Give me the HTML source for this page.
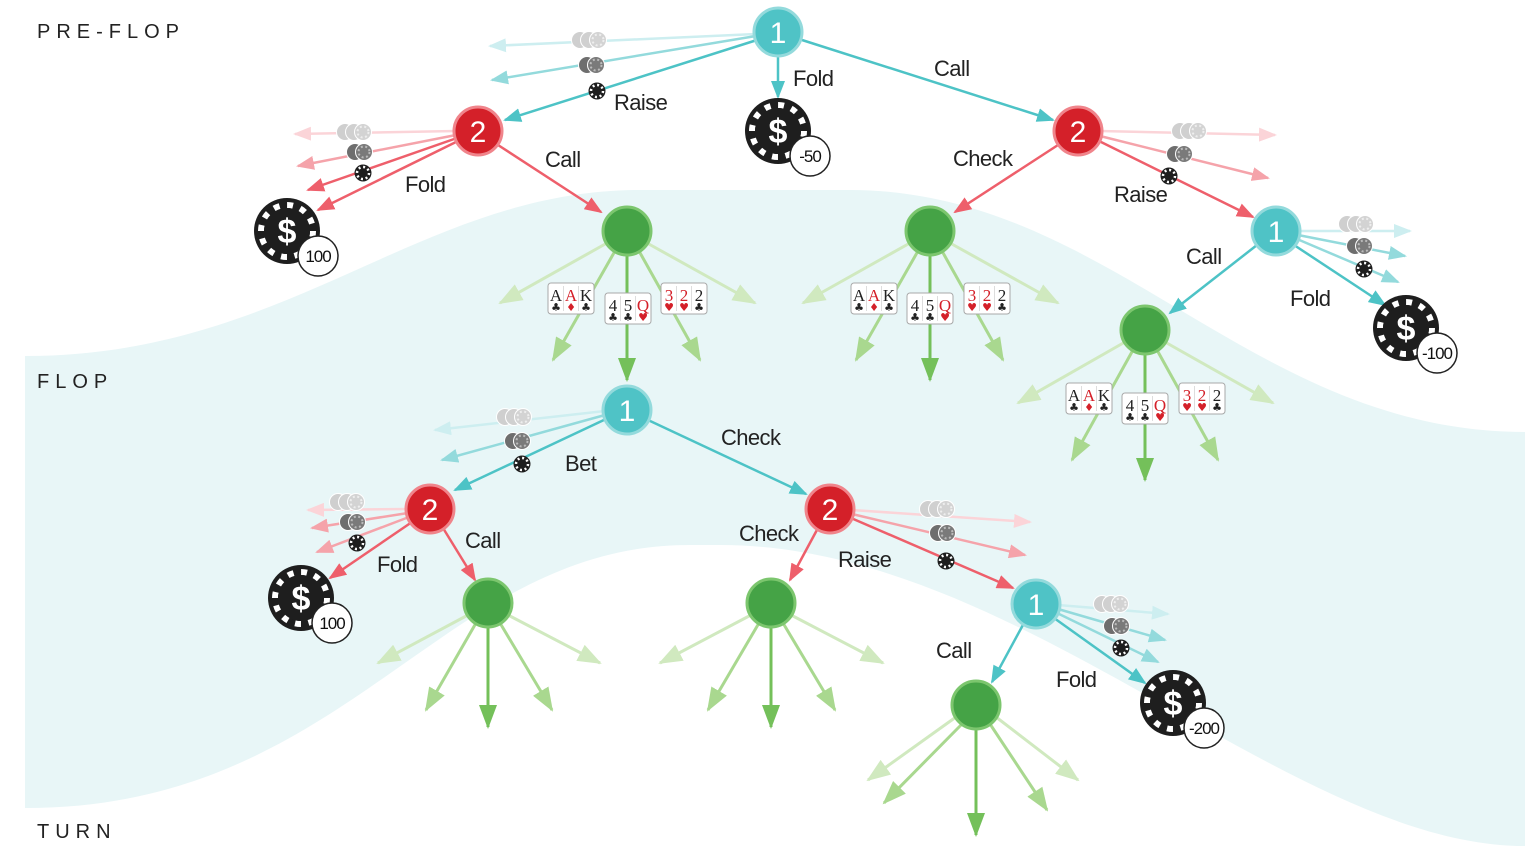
<!DOCTYPE html>
<html><head><meta charset="utf-8"><style>
html,body{margin:0;padding:0;background:#fff}
svg{display:block}
.l{font-family:"Liberation Sans Narrow","Liberation Sans",sans-serif;font-size:22px;letter-spacing:-0.6px;fill:#222}
.h{font-family:"Liberation Sans",sans-serif;font-size:20px;letter-spacing:6px;fill:#222}
.n{font-family:"Liberation Sans",sans-serif;font-size:30px;fill:#fff;text-anchor:middle}
.b{font-family:"Liberation Sans Narrow","Liberation Sans",sans-serif;font-size:17px;letter-spacing:-1px;fill:#111;text-anchor:middle}
.d{font-family:"Liberation Sans",sans-serif;font-size:34px;font-weight:bold;fill:#fff;text-anchor:middle}
.c{font-family:"Liberation Serif",serif;font-size:17px;text-anchor:middle}
.s{font-family:"DejaVu Sans",sans-serif;font-size:11px;text-anchor:middle}
</style></head><body>
<svg width="1525" height="859" viewBox="0 0 1525 859" xmlns="http://www.w3.org/2000/svg">
<defs>
<marker id="t" markerUnits="userSpaceOnUse" markerWidth="18" markerHeight="14" refX="16" refY="7" orient="auto"><path d="M0,0 L18,7 L0,14z" fill="#4dc3c6"/></marker>
<marker id="t2" markerUnits="userSpaceOnUse" markerWidth="18" markerHeight="14" refX="16" refY="7" orient="auto"><path d="M0,0 L18,7 L0,14z" fill="#93dadc"/></marker>
<marker id="t3" markerUnits="userSpaceOnUse" markerWidth="18" markerHeight="14" refX="16" refY="7" orient="auto"><path d="M0,0 L18,7 L0,14z" fill="#cdeef0"/></marker>
<marker id="r" markerUnits="userSpaceOnUse" markerWidth="18" markerHeight="14" refX="16" refY="7" orient="auto"><path d="M0,0 L18,7 L0,14z" fill="#ee5f6b"/></marker>
<marker id="r2" markerUnits="userSpaceOnUse" markerWidth="18" markerHeight="14" refX="16" refY="7" orient="auto"><path d="M0,0 L18,7 L0,14z" fill="#f5a3aa"/></marker>
<marker id="r3" markerUnits="userSpaceOnUse" markerWidth="18" markerHeight="14" refX="16" refY="7" orient="auto"><path d="M0,0 L18,7 L0,14z" fill="#fbd4d8"/></marker>
<marker id="g" markerUnits="userSpaceOnUse" markerWidth="24" markerHeight="18" refX="22" refY="9" orient="auto"><path d="M0,0 L24,9 L0,18z" fill="#74c05a"/></marker>
<marker id="g2" markerUnits="userSpaceOnUse" markerWidth="24" markerHeight="18" refX="22" refY="9" orient="auto"><path d="M0,0 L24,9 L0,18z" fill="#a9d88f"/></marker>
<marker id="g3" markerUnits="userSpaceOnUse" markerWidth="24" markerHeight="18" refX="22" refY="9" orient="auto"><path d="M0,0 L24,9 L0,18z" fill="#d0e9bf"/></marker>
<g id="dot"><circle r="8.5" fill="#1e1e1e"/><circle r="6" fill="none" stroke="#fff" stroke-width="2.5" stroke-dasharray="2 2.7"/><circle r="3.5" fill="#1e1e1e"/></g>
<g id="c2"><circle cx="-5" r="8.5" fill="#6e6e6e" stroke="#fff" stroke-width="1"/><circle cx="4" r="8.5" fill="#7a7a7a" stroke="#fff" stroke-width="1"/><circle cx="4" r="5.5" fill="none" stroke="#bbb" stroke-width="2" stroke-dasharray="2 2.5"/></g>
<g id="c3"><circle cx="-10" r="8.5" fill="#cfcfcf" stroke="#fff" stroke-width="1"/><circle cx="-1" r="8.5" fill="#d0d0d0" stroke="#fff" stroke-width="1"/><circle cx="8" r="8.5" fill="#d3d3d3" stroke="#fff" stroke-width="1"/><circle cx="8" r="5.5" fill="none" stroke="#eee" stroke-width="2" stroke-dasharray="2 2.5"/></g>
<g id="big"><circle r="33" fill="#1e1e1e"/><circle r="26" fill="none" stroke="#fff" stroke-width="6" stroke-dasharray="6 7.6"/><circle r="23" fill="#1e1e1e"/></g>
<g id="card"><rect x="0" y="0" width="46" height="31" rx="3" fill="#fff" stroke="#a8a8a8"/><line x1="15.5" y1="3" x2="15.5" y2="28" stroke="#ddd"/><line x1="30.5" y1="3" x2="30.5" y2="28" stroke="#ddd"/></g>
</defs>

<path d="M25,356 C290,356 420,190 640,190 L850,190 C1110,190 1250,432 1525,432 L1525,846 C1290,846 1020,545 720,545 L690,545 C440,545 350,808 25,808 Z" fill="#e8f6f7"/>

<text class="h" x="37" y="38">PRE-FLOP</text>
<text class="h" x="37" y="388">FLOP</text>
<text class="h" x="37" y="838">TURN</text>

<g stroke-width="2.5" fill="none">
<line x1="756" y1="34" x2="490" y2="46" stroke="#cdeef0" marker-end="url(#t3)"/>
<line x1="756" y1="36" x2="492" y2="80" stroke="#93dadc" marker-end="url(#t2)"/>
<line x1="757" y1="40" x2="505" y2="120" stroke="#4dc3c6" marker-end="url(#t)"/>
<line x1="778" y1="55" x2="778" y2="97" stroke="#4dc3c6" marker-end="url(#t)"/>
<line x1="802" y1="40" x2="1053" y2="120" stroke="#4dc3c6" marker-end="url(#t)"/>
<line x1="456" y1="131" x2="295" y2="134" stroke="#fbd4d8" marker-end="url(#r3)"/>
<line x1="456" y1="135" x2="298" y2="166" stroke="#f5a3aa" marker-end="url(#r2)"/>
<line x1="457" y1="138" x2="308" y2="190" stroke="#ee5f6b" marker-end="url(#r)"/>
<line x1="458" y1="141" x2="318" y2="210" stroke="#ee5f6b" marker-end="url(#r)"/>
<line x1="498" y1="145" x2="601" y2="212" stroke="#ee5f6b" marker-end="url(#r)"/>
<line x1="1100" y1="131" x2="1275" y2="135" stroke="#fbd4d8" marker-end="url(#r3)"/>
<line x1="1100" y1="136" x2="1268" y2="178" stroke="#f5a3aa" marker-end="url(#r2)"/>
<line x1="1099" y1="141" x2="1253" y2="217" stroke="#ee5f6b" marker-end="url(#r)"/>
<line x1="1058" y1="145" x2="955" y2="212" stroke="#ee5f6b" marker-end="url(#r)"/>
<line x1="1298" y1="231" x2="1410" y2="231" stroke="#cdeef0" marker-end="url(#t3)"/>
<line x1="1298" y1="235" x2="1405" y2="256" stroke="#93dadc" marker-end="url(#t2)"/>
<line x1="1297" y1="239" x2="1398" y2="282" stroke="#93dadc" marker-end="url(#t2)"/>
<line x1="1294" y1="245" x2="1385" y2="305" stroke="#4dc3c6" marker-end="url(#t)"/>
<line x1="1257" y1="245" x2="1170" y2="313" stroke="#4dc3c6" marker-end="url(#t)"/>
<line x1="605" y1="411" x2="435" y2="430" stroke="#cdeef0" marker-end="url(#t3)"/>
<line x1="605" y1="415" x2="442" y2="460" stroke="#93dadc" marker-end="url(#t2)"/>
<line x1="606" y1="419" x2="455" y2="490" stroke="#4dc3c6" marker-end="url(#t)"/>
<line x1="648" y1="420" x2="806" y2="494" stroke="#4dc3c6" marker-end="url(#t)"/>
<line x1="408" y1="509" x2="308" y2="510" stroke="#fbd4d8" marker-end="url(#r3)"/>
<line x1="408" y1="513" x2="312" y2="528" stroke="#f5a3aa" marker-end="url(#r2)"/>
<line x1="409" y1="517" x2="317" y2="552" stroke="#f5a3aa" marker-end="url(#r2)"/>
<line x1="412" y1="522" x2="330" y2="578" stroke="#ee5f6b" marker-end="url(#r)"/>
<line x1="443" y1="528" x2="475" y2="580" stroke="#ee5f6b" marker-end="url(#r)"/>
<line x1="852" y1="510" x2="1030" y2="522" stroke="#fbd4d8" marker-end="url(#r3)"/>
<line x1="852" y1="514" x2="1025" y2="555" stroke="#f5a3aa" marker-end="url(#r2)"/>
<line x1="851" y1="518" x2="1013" y2="588" stroke="#ee5f6b" marker-end="url(#r)"/>
<line x1="818" y1="528" x2="790" y2="580" stroke="#ee5f6b" marker-end="url(#r)"/>
<line x1="1058" y1="605" x2="1168" y2="614" stroke="#cdeef0" marker-end="url(#t3)"/>
<line x1="1058" y1="609" x2="1165" y2="640" stroke="#93dadc" marker-end="url(#t2)"/>
<line x1="1057" y1="613" x2="1158" y2="662" stroke="#93dadc" marker-end="url(#t2)"/>
<line x1="1054" y1="618" x2="1145" y2="683" stroke="#4dc3c6" marker-end="url(#t)"/>
<line x1="1024" y1="623" x2="992" y2="682" stroke="#4dc3c6" marker-end="url(#t)"/>
</g>

<g stroke-width="3" fill="none">
<g transform="translate(627,231)">
<line x1="-20" y1="12" x2="-127" y2="72" stroke="#d0e9bf" marker-end="url(#g3)"/>
<line x1="20" y1="12" x2="128" y2="72" stroke="#d0e9bf" marker-end="url(#g3)"/>
<line x1="-12" y1="20" x2="-74" y2="129" stroke="#a9d88f" marker-end="url(#g2)"/>
<line x1="12" y1="20" x2="73" y2="129" stroke="#a9d88f" marker-end="url(#g2)"/>
<line x1="0" y1="23" x2="0" y2="149" stroke="#74c05a" marker-end="url(#g)"/>
</g>
<g transform="translate(930,231)">
<line x1="-20" y1="12" x2="-127" y2="72" stroke="#d0e9bf" marker-end="url(#g3)"/>
<line x1="20" y1="12" x2="128" y2="72" stroke="#d0e9bf" marker-end="url(#g3)"/>
<line x1="-12" y1="20" x2="-74" y2="129" stroke="#a9d88f" marker-end="url(#g2)"/>
<line x1="12" y1="20" x2="73" y2="129" stroke="#a9d88f" marker-end="url(#g2)"/>
<line x1="0" y1="23" x2="0" y2="149" stroke="#74c05a" marker-end="url(#g)"/>
</g>
<g transform="translate(1145,330)">
<line x1="-20" y1="12" x2="-127" y2="73" stroke="#d0e9bf" marker-end="url(#g3)"/>
<line x1="20" y1="12" x2="128" y2="73" stroke="#d0e9bf" marker-end="url(#g3)"/>
<line x1="-12" y1="20" x2="-73" y2="130" stroke="#a9d88f" marker-end="url(#g2)"/>
<line x1="12" y1="20" x2="73" y2="130" stroke="#a9d88f" marker-end="url(#g2)"/>
<line x1="0" y1="23" x2="0" y2="150" stroke="#74c05a" marker-end="url(#g)"/>
</g>
<g transform="translate(488,603)">
<line x1="-20" y1="12" x2="-110" y2="60" stroke="#d0e9bf" marker-end="url(#g3)"/>
<line x1="20" y1="12" x2="112" y2="60" stroke="#d0e9bf" marker-end="url(#g3)"/>
<line x1="-12" y1="20" x2="-62" y2="107" stroke="#a9d88f" marker-end="url(#g2)"/>
<line x1="12" y1="20" x2="64" y2="107" stroke="#a9d88f" marker-end="url(#g2)"/>
<line x1="0" y1="23" x2="0" y2="124" stroke="#74c05a" marker-end="url(#g)"/>
</g>
<g transform="translate(771,603)">
<line x1="-20" y1="12" x2="-111" y2="60" stroke="#d0e9bf" marker-end="url(#g3)"/>
<line x1="20" y1="12" x2="112" y2="60" stroke="#d0e9bf" marker-end="url(#g3)"/>
<line x1="-12" y1="20" x2="-63" y2="107" stroke="#a9d88f" marker-end="url(#g2)"/>
<line x1="12" y1="20" x2="64" y2="107" stroke="#a9d88f" marker-end="url(#g2)"/>
<line x1="0" y1="23" x2="0" y2="124" stroke="#74c05a" marker-end="url(#g)"/>
</g>
<g transform="translate(976,705)">
<line x1="-20" y1="12" x2="-108" y2="75" stroke="#d0e9bf" marker-end="url(#g3)"/>
<line x1="20" y1="12" x2="102" y2="75" stroke="#d0e9bf" marker-end="url(#g3)"/>
<line x1="-14" y1="19" x2="-92" y2="98" stroke="#a9d88f" marker-end="url(#g2)"/>
<line x1="14" y1="19" x2="71" y2="105" stroke="#a9d88f" marker-end="url(#g2)"/>
<line x1="0" y1="23" x2="0" y2="130" stroke="#74c05a" marker-end="url(#g)"/>
</g>
</g>

<use href="#c3" x="590" y="40"/><use href="#c2" x="592" y="65"/><use href="#dot" x="597" y="91"/>
<use href="#c3" x="355" y="132"/><use href="#c2" x="360" y="152"/><use href="#dot" x="363" y="173"/>
<use href="#c3" x="1190" y="131"/><use href="#c2" x="1180" y="154"/><use href="#dot" x="1169" y="176"/>
<use href="#c3" x="1357" y="224"/><use href="#c2" x="1360" y="246"/><use href="#dot" x="1364" y="269"/>
<use href="#c3" x="515" y="417"/><use href="#c2" x="518" y="441"/><use href="#dot" x="522" y="464"/>
<use href="#c3" x="348" y="502"/><use href="#c2" x="353" y="522"/><use href="#dot" x="357" y="543"/>
<use href="#c3" x="938" y="509"/><use href="#c2" x="943" y="533"/><use href="#dot" x="946" y="561"/>
<use href="#c3" x="1112" y="604"/><use href="#c2" x="1117" y="626"/><use href="#dot" x="1121" y="648"/>

<g transform="translate(778,131)"><use href="#big"/><text class="d" x="0" y="12">$</text><circle cx="32" cy="25" r="20" fill="#fff" stroke="#222" stroke-width="1.5"/><text class="b" x="32" y="31">-50</text></g>
<g transform="translate(287,231)"><use href="#big"/><text class="d" x="0" y="12">$</text><circle cx="31" cy="25" r="20" fill="#fff" stroke="#222" stroke-width="1.5"/><text class="b" x="31" y="31">100</text></g>
<g transform="translate(1406,328)"><use href="#big"/><text class="d" x="0" y="12">$</text><circle cx="31" cy="25" r="20" fill="#fff" stroke="#222" stroke-width="1.5"/><text class="b" x="31" y="31">-100</text></g>
<g transform="translate(301,598)"><use href="#big"/><text class="d" x="0" y="12">$</text><circle cx="31" cy="25" r="20" fill="#fff" stroke="#222" stroke-width="1.5"/><text class="b" x="31" y="31">100</text></g>
<g transform="translate(1173,703)"><use href="#big"/><text class="d" x="0" y="12">$</text><circle cx="31" cy="25" r="20" fill="#fff" stroke="#222" stroke-width="1.5"/><text class="b" x="31" y="31">-200</text></g>

<g stroke-width="3">
<circle cx="778" cy="32" r="24" fill="#4fc3c6" stroke="#93dadc"/>
<circle cx="478" cy="131" r="24" fill="#d42029" stroke="#f0848b"/>
<circle cx="1078" cy="131" r="24" fill="#d42029" stroke="#f0848b"/>
<circle cx="1276" cy="231" r="24" fill="#4fc3c6" stroke="#93dadc"/>
<circle cx="627" cy="410" r="24" fill="#4fc3c6" stroke="#93dadc"/>
<circle cx="430" cy="509" r="24" fill="#d42029" stroke="#f0848b"/>
<circle cx="830" cy="509" r="24" fill="#d42029" stroke="#f0848b"/>
<circle cx="1036" cy="604" r="24" fill="#4fc3c6" stroke="#93dadc"/>
<circle cx="627" cy="231" r="24" fill="#45a346" stroke="#7cc66e"/>
<circle cx="930" cy="231" r="24" fill="#45a346" stroke="#7cc66e"/>
<circle cx="1145" cy="330" r="24" fill="#45a346" stroke="#7cc66e"/>
<circle cx="488" cy="603" r="24" fill="#45a346" stroke="#7cc66e"/>
<circle cx="771" cy="603" r="24" fill="#45a346" stroke="#7cc66e"/>
<circle cx="976" cy="705" r="24" fill="#45a346" stroke="#7cc66e"/>
</g>
<text class="n" x="778" y="43">1</text>
<text class="n" x="478" y="142">2</text>
<text class="n" x="1078" y="142">2</text>
<text class="n" x="1276" y="242">1</text>
<text class="n" x="627" y="421">1</text>
<text class="n" x="430" y="520">2</text>
<text class="n" x="830" y="520">2</text>
<text class="n" x="1036" y="615">1</text>

<g transform="translate(548,283)">
<use href="#card"/>
<text class="c" x="8" y="18" fill="#222">A</text><text class="c" x="23" y="18" fill="#d42029">A</text><text class="c" x="38" y="18" fill="#222">K</text>
<text class="s" x="8" y="28" fill="#222">♣</text><text class="s" x="23" y="28" fill="#d42029">♦</text><text class="s" x="38" y="28" fill="#222">♣</text>
</g>
<g transform="translate(605,293)">
<use href="#card"/>
<text class="c" x="8" y="18" fill="#222">4</text><text class="c" x="23" y="18" fill="#222">5</text><text class="c" x="38" y="18" fill="#d42029">Q</text>
<text class="s" x="8" y="28" fill="#222">♣</text><text class="s" x="23" y="28" fill="#222">♣</text><text class="s" x="38" y="28" fill="#d42029">♥</text>
</g>
<g transform="translate(661,283)">
<use href="#card"/>
<text class="c" x="8" y="18" fill="#d42029">3</text><text class="c" x="23" y="18" fill="#d42029">2</text><text class="c" x="38" y="18" fill="#222">2</text>
<text class="s" x="8" y="28" fill="#d42029">♥</text><text class="s" x="23" y="28" fill="#d42029">♥</text><text class="s" x="38" y="28" fill="#222">♣</text>
</g>
<g transform="translate(851,283)">
<use href="#card"/>
<text class="c" x="8" y="18" fill="#222">A</text><text class="c" x="23" y="18" fill="#d42029">A</text><text class="c" x="38" y="18" fill="#222">K</text>
<text class="s" x="8" y="28" fill="#222">♣</text><text class="s" x="23" y="28" fill="#d42029">♦</text><text class="s" x="38" y="28" fill="#222">♣</text>
</g>
<g transform="translate(907,293)">
<use href="#card"/>
<text class="c" x="8" y="18" fill="#222">4</text><text class="c" x="23" y="18" fill="#222">5</text><text class="c" x="38" y="18" fill="#d42029">Q</text>
<text class="s" x="8" y="28" fill="#222">♣</text><text class="s" x="23" y="28" fill="#222">♣</text><text class="s" x="38" y="28" fill="#d42029">♥</text>
</g>
<g transform="translate(964,283)">
<use href="#card"/>
<text class="c" x="8" y="18" fill="#d42029">3</text><text class="c" x="23" y="18" fill="#d42029">2</text><text class="c" x="38" y="18" fill="#222">2</text>
<text class="s" x="8" y="28" fill="#d42029">♥</text><text class="s" x="23" y="28" fill="#d42029">♥</text><text class="s" x="38" y="28" fill="#222">♣</text>
</g>
<g transform="translate(1066,383)">
<use href="#card"/>
<text class="c" x="8" y="18" fill="#222">A</text><text class="c" x="23" y="18" fill="#d42029">A</text><text class="c" x="38" y="18" fill="#222">K</text>
<text class="s" x="8" y="28" fill="#222">♣</text><text class="s" x="23" y="28" fill="#d42029">♦</text><text class="s" x="38" y="28" fill="#222">♣</text>
</g>
<g transform="translate(1122,393)">
<use href="#card"/>
<text class="c" x="8" y="18" fill="#222">4</text><text class="c" x="23" y="18" fill="#222">5</text><text class="c" x="38" y="18" fill="#d42029">Q</text>
<text class="s" x="8" y="28" fill="#222">♣</text><text class="s" x="23" y="28" fill="#222">♣</text><text class="s" x="38" y="28" fill="#d42029">♥</text>
</g>
<g transform="translate(1179,383)">
<use href="#card"/>
<text class="c" x="8" y="18" fill="#d42029">3</text><text class="c" x="23" y="18" fill="#d42029">2</text><text class="c" x="38" y="18" fill="#222">2</text>
<text class="s" x="8" y="28" fill="#d42029">♥</text><text class="s" x="23" y="28" fill="#d42029">♥</text><text class="s" x="38" y="28" fill="#222">♣</text>
</g>

<text class="l" x="614" y="110">Raise</text>
<text class="l" x="793" y="86">Fold</text>
<text class="l" x="934" y="76">Call</text>
<text class="l" x="545" y="167">Call</text>
<text class="l" x="405" y="192">Fold</text>
<text class="l" x="953" y="166">Check</text>
<text class="l" x="1114" y="202">Raise</text>
<text class="l" x="1186" y="264">Call</text>
<text class="l" x="1290" y="306">Fold</text>
<text class="l" x="565" y="471">Bet</text>
<text class="l" x="721" y="445">Check</text>
<text class="l" x="465" y="548">Call</text>
<text class="l" x="377" y="572">Fold</text>
<text class="l" x="739" y="541">Check</text>
<text class="l" x="838" y="567">Raise</text>
<text class="l" x="936" y="658">Call</text>
<text class="l" x="1056" y="687">Fold</text>
</svg>
</body></html>
